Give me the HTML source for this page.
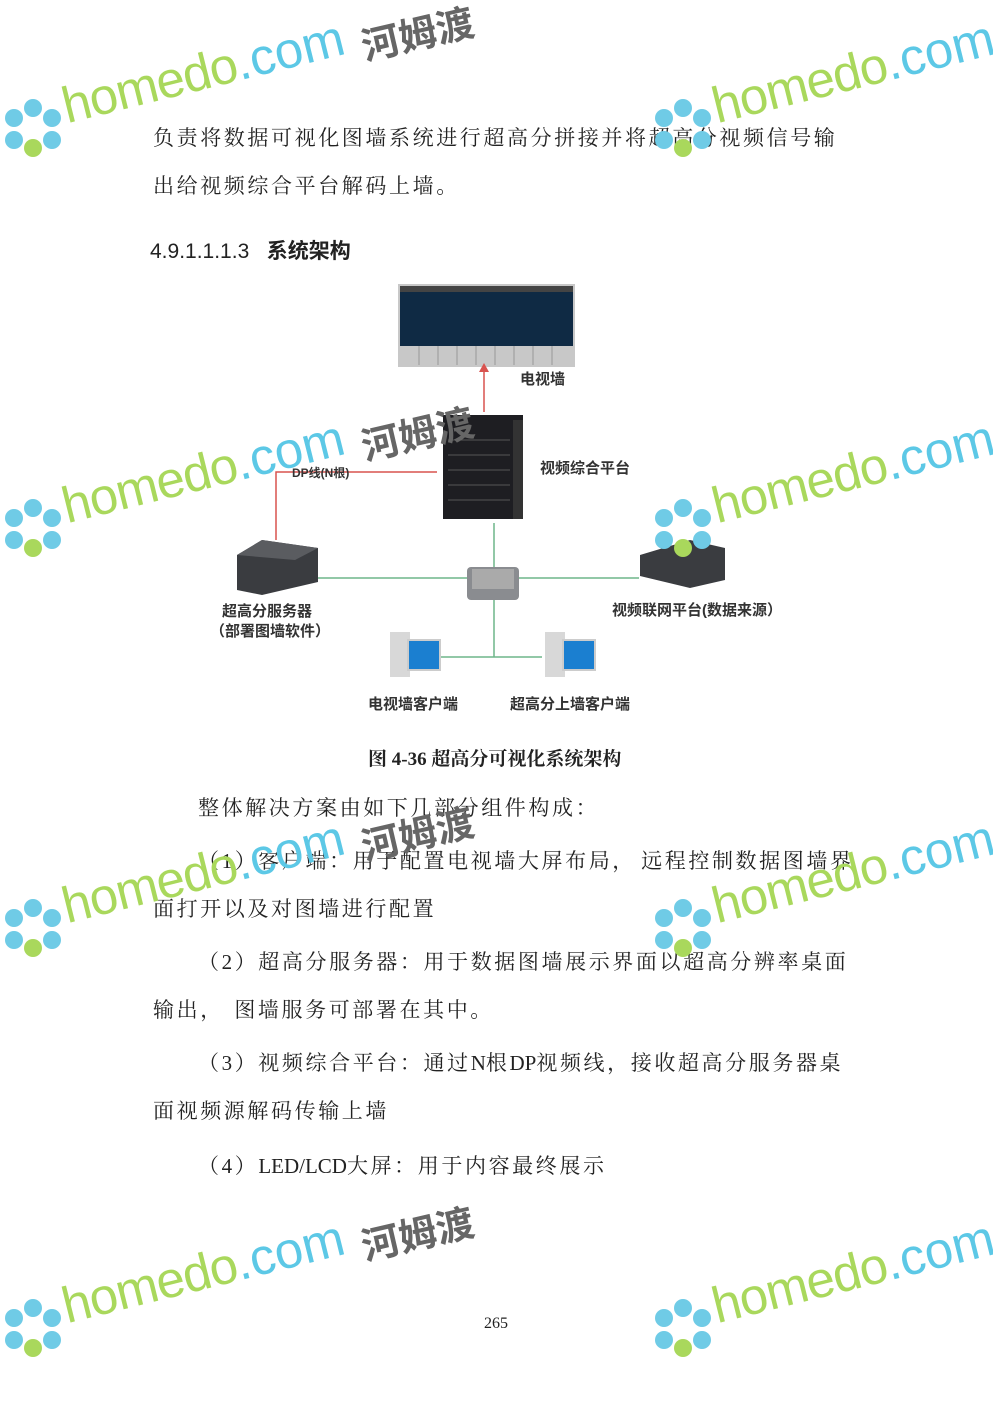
<!DOCTYPE html>
<html><head><meta charset="utf-8"><style>
body{margin:0;width:993px;height:1403px;background:#fff;position:relative;overflow:hidden;font-family:"Liberation Serif","Noto Serif CJK SC",serif;}
.t{position:absolute;font-size:21px;color:#222;white-space:nowrap;letter-spacing:2.6px;}
.t i{font-style:normal;letter-spacing:0;}
.lb{position:absolute;font-family:"Liberation Sans","Noto Sans CJK SC",sans-serif;font-weight:bold;font-size:15px;color:#333;white-space:nowrap;}
.wm{position:absolute;transform:rotate(-14deg);transform-origin:left bottom;white-space:nowrap;font-family:"Liberation Sans",sans-serif;}
.wm .h{font-size:51px;color:#a9d85c;letter-spacing:-1px}
.wm .c{font-size:51px;color:#5cc8e6}
.cn{position:absolute;transform:rotate(-13deg);font-family:"Noto Sans CJK SC",sans-serif;font-weight:bold;font-size:38px;color:#666;}
.fl{position:absolute;width:62px;height:62px;}
</style></head><body>

<div class="t" style="left:153px;top:122px;">负责将数据可视化图墙系统进行超高分拼接并将超高分视频信号输</div>
<div class="t" style="left:153px;top:170px;">出给视频综合平台解码上墙。</div>
<div class="t" style="left:150px;top:235px;font-family:'Liberation Sans','Noto Sans CJK SC',sans-serif;font-size:21px;letter-spacing:0;">4.9.1.1.1.3&nbsp;&nbsp;&nbsp;<b>系统架构</b></div>

<svg style="position:absolute;left:0;top:0" width="993" height="760">
<rect x="398" y="284" width="177" height="83" fill="#c8c8c8"/>
<rect x="400" y="286" width="173" height="60" fill="#0f2a44"/>
<rect x="400" y="286" width="173" height="6" fill="#444"/>
<g stroke="#999" stroke-width="1"><line x1="419" y1="346" x2="419" y2="365"/><line x1="438" y1="346" x2="438" y2="365"/><line x1="457" y1="346" x2="457" y2="365"/><line x1="476" y1="346" x2="476" y2="365"/><line x1="495" y1="346" x2="495" y2="365"/><line x1="514" y1="346" x2="514" y2="365"/><line x1="533" y1="346" x2="533" y2="365"/><line x1="552" y1="346" x2="552" y2="365"/></g>
<line x1="484" y1="412" x2="484" y2="370" stroke="#d9534f" stroke-width="1.5"/>
<polygon points="479,372 489,372 484,363" fill="#d9534f"/>
<polyline points="437,472 276,472 276,540" fill="none" stroke="#d9534f" stroke-width="1.5"/>
<rect x="443" y="415" width="80" height="104" fill="#1e1e22"/>
<rect x="513" y="420" width="10" height="99" fill="#333"/>
<g stroke="#555"><line x1="448" y1="440" x2="510" y2="440"/><line x1="448" y1="455" x2="510" y2="455"/><line x1="448" y1="470" x2="510" y2="470"/><line x1="448" y1="485" x2="510" y2="485"/><line x1="448" y1="500" x2="510" y2="500"/></g>
<g stroke="#6fb58a" stroke-width="1.5" fill="none"><line x1="317" y1="578" x2="639" y2="578"/><line x1="494" y1="523" x2="494" y2="657"/><line x1="441" y1="657" x2="542" y2="657"/></g>
<polygon points="237,555 262,540 318,548 318,582 262,595 237,590" fill="#3a3c40"/>
<polygon points="237,555 262,540 318,548 295,560" fill="#5a5c60"/>
<rect x="467" y="567" width="52" height="33" rx="4" fill="#8a8c90"/>
<rect x="472" y="569" width="42" height="20" fill="#aaa"/>
<polygon points="640,555 690,540 725,548 725,580 690,588 640,576" fill="#3a3c40"/>
<rect x="390" y="632" width="20" height="45" fill="#d8d8d8"/><rect x="408" y="640" width="32" height="30" fill="#1b7fd0" stroke="#ccc" stroke-width="2"/>
<rect x="545" y="632" width="20" height="45" fill="#d8d8d8"/><rect x="563" y="640" width="32" height="30" fill="#1b7fd0" stroke="#ccc" stroke-width="2"/>
</svg>
<div class="lb" style="left:520px;top:368px;">电视墙</div>
<div class="lb" style="left:540px;top:457px;">视频综合平台</div>
<div class="lb" style="left:292px;top:464px;font-size:12px;">DP线(N根)</div>
<div class="lb" style="left:222px;top:600px;">超高分服务器</div>
<div class="lb" style="left:210px;top:620px;">（部署图墙软件）</div>
<div class="lb" style="left:612px;top:599px;">视频联网平台(数据来源）</div>
<div class="lb" style="left:368px;top:693px;">电视墙客户端</div>
<div class="lb" style="left:510px;top:693px;">超高分上墙客户端</div>

<div class="t" style="left:368px;top:744px;font-size:19px;font-weight:bold;letter-spacing:0;">图 4-36 超高分可视化系统架构</div>
<div class="t" style="left:198px;top:792px;">整体解决方案由如下几部分组件构成：</div>
<div class="t" style="left:198px;top:845px;">（1）客户端：用于配置电视墙大屏布局，<i>&nbsp;</i>远程控制数据图墙界</div>
<div class="t" style="left:153px;top:893px;">面打开以及对图墙进行配置</div>
<div class="t" style="left:198px;top:946px;">（2）超高分服务器：用于数据图墙展示界面以超高分辨率桌面</div>
<div class="t" style="left:153px;top:994px;">输出，<i>&nbsp;&nbsp;</i>图墙服务可部署在其中。</div>
<div class="t" style="left:198px;top:1047px;">（3）视频综合平台：通过<i>N</i>根<i>DP</i>视频线，接收超高分服务器桌</div>
<div class="t" style="left:153px;top:1095px;">面视频源解码传输上墙</div>
<div class="t" style="left:198px;top:1150px;">（4）<i>LED/LCD</i>大屏：用于内容最终展示</div>
<div class="t" style="left:484px;top:1315px;font-size:16px;letter-spacing:0;">265</div>

<!-- watermarks -->
<div class="wm" style="left:70px;top:76px;"><span class="h">homedo</span><span class="c">.com</span></div>
<div class="cn" style="left:360px;top:4px;">河姆渡</div>
<div class="wm" style="left:720px;top:76px;"><span class="h">homedo</span><span class="c">.com</span></div>
<div class="wm" style="left:70px;top:476px;"><span class="h">homedo</span><span class="c">.com</span></div>
<div class="cn" style="left:360px;top:404px;">河姆渡</div>
<div class="wm" style="left:720px;top:476px;"><span class="h">homedo</span><span class="c">.com</span></div>
<div class="wm" style="left:70px;top:876px;"><span class="h">homedo</span><span class="c">.com</span></div>
<div class="cn" style="left:360px;top:804px;">河姆渡</div>
<div class="wm" style="left:720px;top:876px;"><span class="h">homedo</span><span class="c">.com</span></div>
<div class="wm" style="left:70px;top:1276px;"><span class="h">homedo</span><span class="c">.com</span></div>
<div class="cn" style="left:360px;top:1204px;">河姆渡</div>
<div class="wm" style="left:720px;top:1276px;"><span class="h">homedo</span><span class="c">.com</span></div>

<svg class="fl" style="left:2px;top:98px" viewBox="0 0 62 62"><g fill="#6fcbe6"><circle cx="31" cy="10" r="9"/><circle cx="50" cy="20" r="9"/><circle cx="50" cy="42" r="9"/><circle cx="12" cy="20" r="9"/><circle cx="12" cy="42" r="9"/></g><circle cx="31" cy="50" r="9" fill="#a9d85c"/></svg>
<svg class="fl" style="left:652px;top:98px" viewBox="0 0 62 62"><g fill="#6fcbe6"><circle cx="31" cy="10" r="9"/><circle cx="50" cy="20" r="9"/><circle cx="50" cy="42" r="9"/><circle cx="12" cy="20" r="9"/><circle cx="12" cy="42" r="9"/></g><circle cx="31" cy="50" r="9" fill="#a9d85c"/></svg>
<svg class="fl" style="left:2px;top:498px" viewBox="0 0 62 62"><g fill="#6fcbe6"><circle cx="31" cy="10" r="9"/><circle cx="50" cy="20" r="9"/><circle cx="50" cy="42" r="9"/><circle cx="12" cy="20" r="9"/><circle cx="12" cy="42" r="9"/></g><circle cx="31" cy="50" r="9" fill="#a9d85c"/></svg>
<svg class="fl" style="left:652px;top:498px" viewBox="0 0 62 62"><g fill="#6fcbe6"><circle cx="31" cy="10" r="9"/><circle cx="50" cy="20" r="9"/><circle cx="50" cy="42" r="9"/><circle cx="12" cy="20" r="9"/><circle cx="12" cy="42" r="9"/></g><circle cx="31" cy="50" r="9" fill="#a9d85c"/></svg>
<svg class="fl" style="left:2px;top:898px" viewBox="0 0 62 62"><g fill="#6fcbe6"><circle cx="31" cy="10" r="9"/><circle cx="50" cy="20" r="9"/><circle cx="50" cy="42" r="9"/><circle cx="12" cy="20" r="9"/><circle cx="12" cy="42" r="9"/></g><circle cx="31" cy="50" r="9" fill="#a9d85c"/></svg>
<svg class="fl" style="left:652px;top:898px" viewBox="0 0 62 62"><g fill="#6fcbe6"><circle cx="31" cy="10" r="9"/><circle cx="50" cy="20" r="9"/><circle cx="50" cy="42" r="9"/><circle cx="12" cy="20" r="9"/><circle cx="12" cy="42" r="9"/></g><circle cx="31" cy="50" r="9" fill="#a9d85c"/></svg>
<svg class="fl" style="left:2px;top:1298px" viewBox="0 0 62 62"><g fill="#6fcbe6"><circle cx="31" cy="10" r="9"/><circle cx="50" cy="20" r="9"/><circle cx="50" cy="42" r="9"/><circle cx="12" cy="20" r="9"/><circle cx="12" cy="42" r="9"/></g><circle cx="31" cy="50" r="9" fill="#a9d85c"/></svg>
<svg class="fl" style="left:652px;top:1298px" viewBox="0 0 62 62"><g fill="#6fcbe6"><circle cx="31" cy="10" r="9"/><circle cx="50" cy="20" r="9"/><circle cx="50" cy="42" r="9"/><circle cx="12" cy="20" r="9"/><circle cx="12" cy="42" r="9"/></g><circle cx="31" cy="50" r="9" fill="#a9d85c"/></svg>
</body></html>
